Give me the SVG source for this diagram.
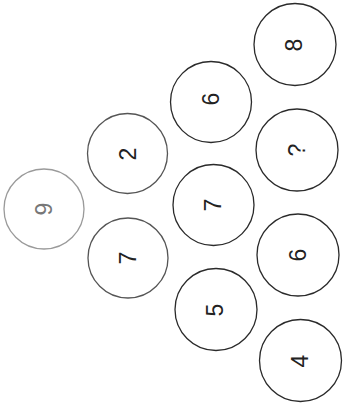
<svg xmlns="http://www.w3.org/2000/svg" width="344" height="409" viewBox="0 0 344 409">
<style>
.c{fill:none;stroke:#2a2a2a;stroke-width:1.3}
.l{stroke:#9a9a9a}
.m{stroke:#555}
.t{font-family:"Liberation Sans",Arial,sans-serif;font-size:23px;fill:#222;text-anchor:middle;dominant-baseline:central}
</style>
<rect width="344" height="409" fill="#ffffff"/>
<g id="n9"><circle class="c l" cx="44" cy="209" r="40"/><text class="t" style="fill:#777" transform="translate(44,209) rotate(-90)">9</text></g>
<g id="n2"><circle class="c m" cx="127.5" cy="153.5" r="40"/><text class="t" transform="translate(127.5,154) rotate(-90)">2</text></g>
<g id="n7a"><circle class="c m" cx="128" cy="258" r="40"/><text class="t" transform="translate(128,258) rotate(-90)">7</text></g>
<g id="n6a"><circle class="c" cx="211" cy="102" r="40.5"/><text class="t" transform="translate(211,99) rotate(-90)">6</text></g>
<g id="n7b"><circle class="c" cx="213.5" cy="205" r="40.5"/><text class="t" transform="translate(213,205) rotate(-90)">7</text></g>
<g id="n5"><circle class="c" cx="216" cy="309.5" r="41"/><text class="t" transform="translate(215,310) rotate(-90)">5</text></g>
<g id="n8"><circle class="c" cx="295" cy="44.5" r="41"/><text class="t" transform="translate(294,45) rotate(-90)">8</text></g>
<g id="nq"><circle class="c" cx="297" cy="150" r="41"/><text class="t" transform="translate(297,150) rotate(-90)">?</text></g>
<g id="n6b"><circle class="c" cx="298" cy="255" r="41"/><text class="t" transform="translate(298,255) rotate(-90)">6</text></g>
<g id="n4"><circle class="c" cx="300.5" cy="360.5" r="41"/><text class="t" transform="translate(300,361) rotate(-90)">4</text></g>
<g id="connectors"></g>
</svg>
